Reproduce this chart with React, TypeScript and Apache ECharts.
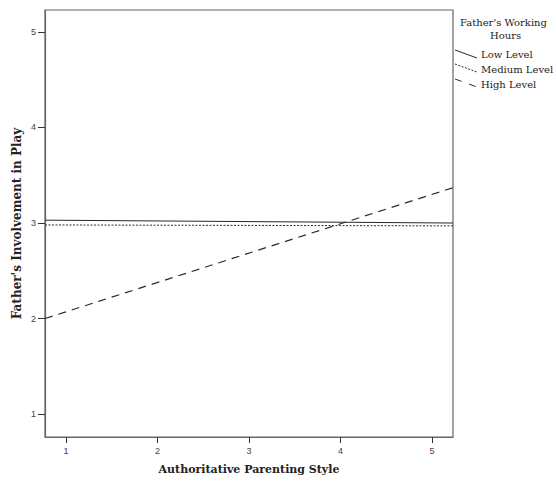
import React, { useEffect, useRef } from "react";
import * as echarts from "echarts";

const xTicks = [1, 2, 3, 4, 5];
const yTicks = [1, 2, 3, 4, 5];
const seriesNames = ["Low Level", "Medium Level", "High Level"];
const xRange = [0.77, 5.23];
const lowLevel = [3.03, 3.0];
const mediumLevel = [2.98, 2.97];
const highLevel = [2.0, 3.37];
const legendTitle = ["Father's Working", "Hours"];

export default function App() {
  const ref = useRef<HTMLDivElement>(null);
  useEffect(() => {
    document.body.style.margin = "0";
    const chart = echarts.init(ref.current!, null, { renderer: "svg" });
    const lineColor = "#2a2a2a";
    const axisColor = "#666";
    const mk = (vals: number[]) => xRange.map((x, i) => [x, vals[i]]);
    const serif = "'DejaVu Serif', 'Liberation Serif', serif";
    const sans = "'Liberation Sans', Arial, sans-serif";
    chart.setOption({
      animation: false,
      grid: {
        left: 45,
        right: 103,
        top: 10,
        bottom: 44,
        show: true,
        borderColor: axisColor,
        borderWidth: 1.2,
      },
      xAxis: {
        type: "value",
        min: xRange[0],
        max: xRange[1],
        name: "Authoritative Parenting Style",
        nameLocation: "middle",
        nameGap: 27,
        nameMoveOverlap: false,
        nameTextStyle: { fontFamily: serif, fontWeight: "bold", fontSize: 11, color: "#222" },
        axisLine: { show: true, lineStyle: { color: axisColor, width: 1.2 } },
        axisTick: { show: true, length: 6, customValues: xTicks, lineStyle: { color: "#333" } },
        axisLabel: { customValues: xTicks, fontFamily: sans, fontSize: 9, color: "#444", margin: 9 },
        splitLine: { show: false },
      },
      yAxis: {
        type: "value",
        min: 0.76,
        max: 5.23,
        name: "Father's Involvement in Play",
        nameLocation: "middle",
        nameGap: 22,
        nameMoveOverlap: false,
        nameRotate: 90,
        nameTextStyle: { fontFamily: serif, fontWeight: "bold", fontSize: 12, color: "#222" },
        axisLine: { show: true, lineStyle: { color: axisColor, width: 1.2 } },
        axisTick: { show: true, length: 7, customValues: yTicks, lineStyle: { color: "#333" } },
        axisLabel: { customValues: yTicks, fontFamily: sans, fontSize: 9, color: "#444", margin: 9 },
        splitLine: { show: false },
      },
      series: [
        {
          name: seriesNames[0],
          type: "line",
          data: mk(lowLevel),
          symbol: "none",
          lineStyle: { color: lineColor, width: 1, type: "solid" },
        },
        {
          name: seriesNames[1],
          type: "line",
          data: mk(mediumLevel),
          symbol: "none",
          lineStyle: { color: lineColor, width: 1, type: [2, 1.5] },
        },
        {
          name: seriesNames[2],
          type: "line",
          data: mk(highLevel),
          symbol: "none",
          lineStyle: { color: lineColor, width: 1.2, type: [8, 6] },
        },
      ],
      graphic: [
        {
          type: "text",
          left: 460,
          top: 17,
          style: { text: legendTitle[0], font: `10px ${serif}`, fill: "#222" },
        },
        {
          type: "text",
          left: 490,
          top: 30,
          style: { text: legendTitle[1], font: `10px ${serif}`, fill: "#222" },
        },
        {
          type: "line",
          shape: { x1: 455, y1: 50, x2: 477, y2: 58 },
          style: { stroke: lineColor, lineWidth: 1 },
        },
        {
          type: "line",
          shape: { x1: 455, y1: 64, x2: 477, y2: 72 },
          style: { stroke: lineColor, lineWidth: 1, lineDash: [2, 1.5] },
        },
        {
          type: "line",
          shape: { x1: 455, y1: 79, x2: 477, y2: 87 },
          style: { stroke: lineColor, lineWidth: 1, lineDash: [7, 8] },
        },
        {
          type: "text",
          left: 481,
          top: 49,
          style: { text: seriesNames[0], font: `10px ${serif}`, fill: "#222" },
        },
        {
          type: "text",
          left: 481,
          top: 64,
          style: { text: seriesNames[1], font: `10px ${serif}`, fill: "#222" },
        },
        {
          type: "text",
          left: 481,
          top: 79,
          style: { text: seriesNames[2], font: `10px ${serif}`, fill: "#222" },
        },
      ],
    });
    return () => chart.dispose();
  }, []);
  return <div ref={ref} style={{ width: 556, height: 481 }} />;
}
